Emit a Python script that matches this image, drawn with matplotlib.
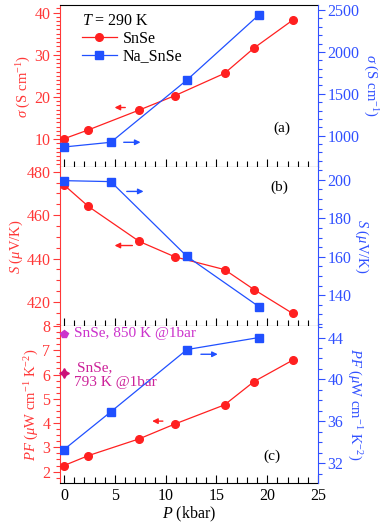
import numpy as np
import matplotlib
matplotlib.use("Agg")
import matplotlib.pyplot as plt
from matplotlib.ticker import MultipleLocator
from matplotlib.lines import Line2D

plt.rcParams['font.family'] = ['Liberation Serif', 'DejaVu Serif']
plt.rcParams['mathtext.fontset'] = 'custom'
plt.rcParams['mathtext.rm'] = 'Liberation Serif'
plt.rcParams['mathtext.it'] = 'Liberation Serif:italic'
plt.rcParams['font.size'] = 11.5

# ---- data ----
p_snse = [0, 2.4, 7.4, 10.9, 15.8, 18.7, 22.5]
p_na = [0, 4.6, 12.1, 19.2]

sigma_snse = [10.1, 12.2, 16.9, 20.3, 25.6, 31.6, 38.2]
sigma_na = [865, 921, 1665, 2444]

s_snse = [473.9, 464.0, 447.9, 440.8, 434.9, 425.7, 414.7]
s_na = [199.6, 199.1, 160.2, 134.0]

pf_snse = [2.25, 2.66, 3.35, 3.96, 4.75, 5.71, 6.59]
pf_na = [33.3, 36.9, 42.85, 44.0]

ref_850 = 7.68   # SnSe, 850 K @1bar
ref_793 = 6.08   # SnSe, 793 K @1bar

RED = '#FF2020'
BLUE = '#2050FF'
RTXT = '#FF3838'
BTXT = '#3050FF'

fig = plt.figure(figsize=(3.88, 5.27), dpi=100)
W, H = 388, 527
x0, x1 = 60, 318
bounds = [(5, 167), (167, 326), (326, 483)]

left_ylims = [(3.4, 41.8), (408.9, 482.2), (1.53, 8.0)]
right_ylims = [(626, 2560), (124, 206.7), (30.1, 45.1)]
left_major = [10, 20, 1]
left_minor = [1, 5, 0.25]
right_major = [500, 20, 4]
right_minor = [100, 5, 1]
left_labels = [r'$\sigma$ (S cm$^{-1}$)', r'$S$ ($\mu$V/K)',
               r'$PF$ ($\mu$W cm$^{-1}$ K$^{-2}$)']
right_labels = left_labels
panel_tags = ['(a)', '(b)', '(c)']
tag_pos = [(0.86, 0.24), (0.85, 0.87), (0.82, 0.17)]
left_data = [sigma_snse, s_snse, pf_snse]
right_data = [sigma_na, s_na, pf_na]

axes = []
for i, (top, bot) in enumerate(bounds):
    ax = fig.add_axes([x0 / W, 1 - bot / H, (x1 - x0) / W, (bot - top) / H])
    ax2 = ax.twinx()
    ax.set_xlim(-0.4, 25)
    ax.set_ylim(*left_ylims[i])
    ax2.set_ylim(*right_ylims[i])

    ax.plot(p_snse, left_data[i], '-o', color=RED, ms=5.5, lw=0.9, zorder=3)
    ax2.plot(p_na, right_data[i], '-s', color=BLUE, ms=5.2, lw=0.9, zorder=3)

    # spines
    ax.spines['right'].set_visible(False)
    ax.spines['left'].set_color(RTXT)
    for s in ['top', 'bottom', 'left']:
        ax2.spines[s].set_visible(False)
    ax2.spines['right'].set_color(BTXT)
    ax.spines['top'].set_visible(i == 0)

    # x ticks: bottom only, pointing in
    ax.xaxis.set_major_locator(MultipleLocator(5))
    ax.xaxis.set_minor_locator(MultipleLocator(1))
    ax.tick_params(axis='x', which='both', direction='in', top=False,
                   bottom=True, labelbottom=(i == 2), colors='black')
    ax.tick_params(axis='x', which='major', length=6, width=0.8)
    ax.tick_params(axis='x', which='minor', length=4, width=0.8)

    ax.yaxis.set_major_locator(MultipleLocator(left_major[i]))
    ax.yaxis.set_minor_locator(MultipleLocator(left_minor[i]))
    ax.tick_params(axis='y', which='both', direction='out', colors=RTXT,
                   width=0.8, pad=2)
    ax.tick_params(axis='y', which='major', length=5)
    ax.tick_params(axis='y', which='minor', length=3)

    ax2.yaxis.set_major_locator(MultipleLocator(right_major[i]))
    ax2.yaxis.set_minor_locator(MultipleLocator(right_minor[i]))
    ax2.tick_params(axis='y', which='both', direction='out', colors=BTXT,
                    width=0.8, pad=2)
    ax2.tick_params(axis='y', which='major', length=5)
    ax2.tick_params(axis='y', which='minor', length=3)

    ax.set_ylabel(left_labels[i], color=RTXT, labelpad=1, fontsize=10.5)
    ax2.set_ylabel(right_labels[i], color=BTXT, rotation=270, va='bottom',
                   labelpad=1, fontsize=10.5)
    ax.text(*tag_pos[i], panel_tags[i], transform=ax.transAxes,
            ha='center', va='center', fontsize=11)
    axes.append((ax, ax2))

arrow = dict(arrowstyle='-|>', lw=1.0, mutation_scale=8)

(ax_a, ax_a2), (ax_b, ax_b2), (ax_c, ax_c2) = axes

# panel a
ax_a.annotate('', xy=(4.7, 17.5), xytext=(6.3, 17.5),
              arrowprops=dict(arrow, color=RED))
ax_a2.annotate('', xy=(7.8, 921), xytext=(5.6, 921),
               arrowprops=dict(arrow, color=BLUE))
handles = [Line2D([], [], color=RED, marker='o', ms=5.5, lw=0.9),
           Line2D([], [], color=BLUE, marker='s', ms=5.2, lw=0.9)]
leg = ax_a.legend(handles, ['SnSe', 'Na_SnSe'], loc='upper left',
                  bbox_to_anchor=(0.04, 1.02), frameon=False,
                  title=r'$T$ = 290 K', fontsize=11.5, title_fontsize=11.5,
                  handlelength=2.2, handletextpad=0.4, labelspacing=0.1,
                  borderaxespad=0.3)
leg._legend_box.align = 'left'

# panel b
ax_b2.annotate('', xy=(8.1, 194), xytext=(5.9, 194),
               arrowprops=dict(arrow, color=BLUE))
ax_b.annotate('', xy=(4.7, 446), xytext=(7.0, 446),
              arrowprops=dict(arrow, color=RED))

# panel c
ax_c.annotate('', xy=(8.4, 4.08), xytext=(10.0, 4.08),
              arrowprops=dict(arrow, color=RED))
ax_c2.annotate('', xy=(15.4, 42.4), xytext=(13.2, 42.4),
               arrowprops=dict(arrow, color=BLUE))
ax_c.plot([0], [ref_850], marker='p', color='#CC33CC', ms=6, zorder=4,
          clip_on=False)
ax_c.plot([0], [ref_793], marker=(4, 1, 0), color='#CC1177', ms=7, zorder=4,
          clip_on=False)
ax_c.text(1.0, ref_850, 'SnSe, 850 K @1bar', color='#CC33CC',
          va='center', ha='left', fontsize=11)
ax_c.text(1.3, 6.3, 'SnSe,', color='#CC2299', va='center', ha='left',
          fontsize=11)
ax_c.text(1.0, 5.68, '793 K @1bar', color='#CC2299', va='center', ha='left',
          fontsize=11)
ax_c.set_xlabel(r'$P$ (kbar)', labelpad=1)

fig.savefig('out.png', dpi=100)
